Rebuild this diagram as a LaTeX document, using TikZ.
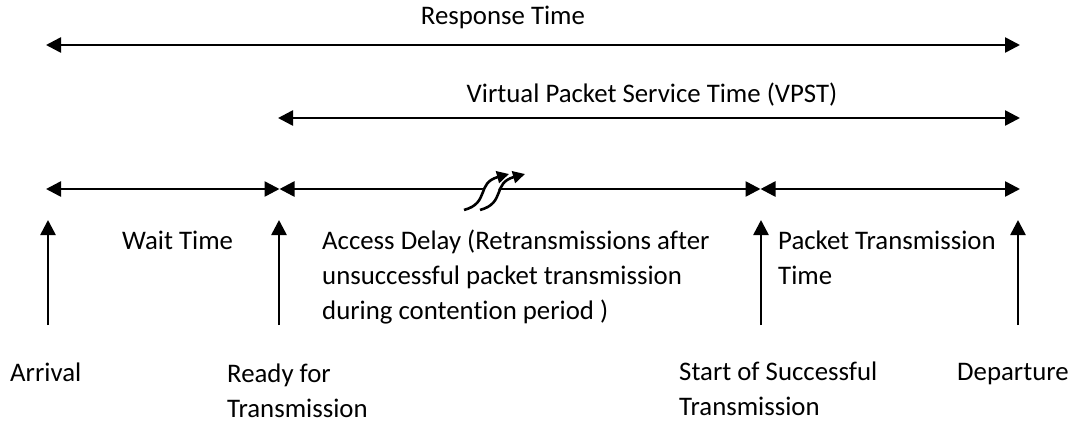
\documentclass[tikz,border=0pt]{standalone}
\usepackage{fontspec}
\setmainfont[Ligatures=NoCommon]{Carlito}
\usetikzlibrary{arrows.meta}
\begin{document}
\begin{tikzpicture}[x=1pt,y=-1pt,
  span/.style={line width=2.6pt,{Triangle[length=15pt,width=15pt]}-{Triangle[length=15pt,width=15pt]}},
  up/.style={line width=2.6pt,-{Triangle[length=15pt,width=15pt]}},
  lbl/.style={font=\fontsize{26.8}{35}\selectfont,inner sep=0pt}]
\useasboundingbox (0,0) rectangle (1079,429);
% coordinates
\coordinate (r1) at (46,45); \coordinate (r2) at (1020,45);
\coordinate (v1) at (278,118); \coordinate (v2) at (1020,118);
\coordinate (a) at (46,189); \coordinate (b) at (279.5,189);
\coordinate (c) at (760.5,189); \coordinate (d) at (1020,189);
\coordinate (ab) at (48,325); \coordinate (at) at (48,220);
\coordinate (bb) at (279,325); \coordinate (bt) at (279,220);
\coordinate (cb) at (761,325); \coordinate (ct) at (761,220);
\coordinate (db) at (1018,325); \coordinate (dt) at (1018,220);
% labels
\node[lbl] (rt) at (503,17) {Response Time};
\node[lbl] (vp) at (652,95) {Virtual Packet Service Time (VPST)};
\draw[span] (r1) -- (r2);
\draw[span] (v1) -- (v2);
\draw[span] (a) -- (b);
\draw[span] (b) -- (c);
\draw[span] (c) -- (d);
\draw[up] (ab) -- (at);
\draw[up] (bb) -- (bt);
\draw[up] (cb) -- (ct);
\draw[up] (db) -- (dt);
% break symbol
\coordinate (s1) at (464,210); \coordinate (e1) at (509,174);
\coordinate (s2) at (480,210); \coordinate (e2) at (525,174);
\fill[white] (476,206) -- (490,172) -- (505,172) -- (492,206) -- cycle;
\draw[line width=2.6pt,-{Triangle[length=12pt,width=12pt]}] (s1) .. controls (490,203) and (476,183) .. (e1);
\draw[line width=2.6pt,-{Triangle[length=12pt,width=12pt]}] (s2) .. controls (506,203) and (492,183) .. (e2);
% texts
\node[lbl,anchor=west] (wt) at (122,240) {Wait Time};
\node[lbl,anchor=west,align=left] (ad) at (322,277) {Access Delay (Retransmissions after\\unsuccessful packet transmission\\during contention period )};
\node[lbl,anchor=west,align=left] (pt) at (778,258) {Packet Transmission\\Time};
\node[lbl,anchor=west] (ar) at (10,372) {Arrival};
\node[lbl,anchor=west,align=left] (rf) at (227,391) {Ready for\\Transmission};
\node[lbl,anchor=west,align=left] (ss) at (679,389) {Start of Successful\\Transmission};
\node[lbl,anchor=west] (dp) at (957,374) {Departure};
\end{tikzpicture}
\end{document}
